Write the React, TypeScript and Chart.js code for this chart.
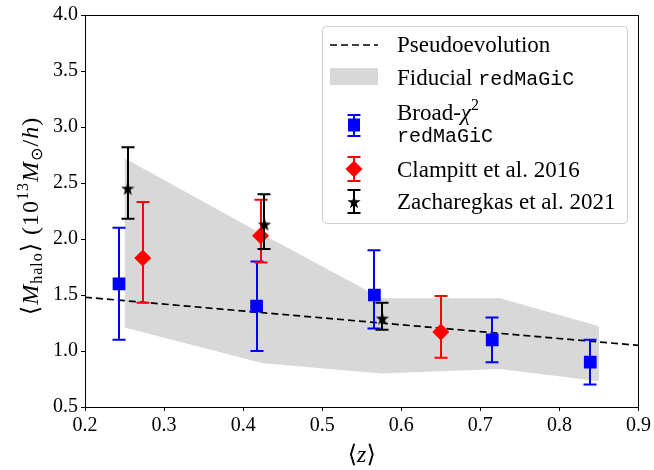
import React, { useEffect, useRef } from 'react';
import { Chart, registerables } from 'chart.js';
Chart.register(...registerables);

// ---- data ----
const broadZ = [0.243, 0.417, 0.566, 0.715, 0.839];
const broadM = [1.6, 1.4, 1.5, 1.1, 0.9];
const broadLo = [1.1, 1.0, 1.2, 0.9, 0.7];
const broadHi = [2.1, 1.8, 1.9, 1.3, 1.1];

const clampZ = [0.273, 0.422, 0.65];
const clampM = [1.83, 2.03, 1.17];
const clampLo = [1.43, 1.79, 0.94];
const clampHi = [2.33, 2.35, 1.49];

const zachZ = [0.254, 0.427, 0.576];
const zachM = [2.45, 2.13, 1.29];
const zachLo = [2.18, 1.91, 1.19];
const zachHi = [2.82, 2.4, 1.43];

const bandZ = [0.25, 0.425, 0.575, 0.725, 0.85];
const bandUpper = [2.72, 2.04, 1.47, 1.47, 1.22];
const bandLower = [1.21, 0.89, 0.8, 0.84, 0.73];

const pseudoZ = [0.2, 0.9];
const pseudoM = [1.48, 1.05];

const xTickValues = [0.2, 0.3, 0.4, 0.5, 0.6, 0.7, 0.8, 0.9];
const yTickValues = [0.5, 1.0, 1.5, 2.0, 2.5, 3.0, 3.5, 4.0];

const legendLabels = ['Pseudoevolution', 'Fiducial ', 'Broad-', 'Clampitt et al. 2016', 'Zacharegkas et al. 2021'];

// ---- style ----
const SERIF = '"Liberation Serif", "DejaVu Serif", serif';
const MONO = '"Liberation Mono", "DejaVu Sans Mono", monospace';
const BAND = 'rgb(216,216,216)';
const BLUE = '#0000ff';
const RED = '#ff0000';

function starPath(ctx: CanvasRenderingContext2D, cx: number, cy: number, R: number, r: number) {
  ctx.beginPath();
  for (let i = 0; i < 10; i++) {
    const a = -Math.PI / 2 + (i * Math.PI) / 5;
    const rr = i % 2 === 0 ? R : r;
    const px = cx + rr * Math.cos(a);
    const py = cy + rr * Math.sin(a);
    if (i === 0) ctx.moveTo(px, py);
    else ctx.lineTo(px, py);
  }
  ctx.closePath();
}

function makeStar(): HTMLCanvasElement {
  const c = document.createElement('canvas');
  c.width = 16;
  c.height = 16;
  const g = c.getContext('2d')!;
  g.fillStyle = '#000';
  starPath(g, 8, 8.5, 7, 2.8);
  g.fill();
  return c;
}

type Run = { t: string; f: string; dy?: number };
function runsWidth(ctx: CanvasRenderingContext2D, runs: Run[]) {
  let w = 0;
  for (const r of runs) {
    ctx.font = r.f;
    w += ctx.measureText(r.t).width;
  }
  return w;
}
function drawRuns(ctx: CanvasRenderingContext2D, runs: Run[], x: number, y: number) {
  let cx = x;
  ctx.textBaseline = 'alphabetic';
  ctx.textAlign = 'left';
  for (const r of runs) {
    ctx.font = r.f;
    ctx.fillText(r.t, cx, y + (r.dy || 0));
    cx += ctx.measureText(r.t).width;
  }
}

function errBar(ctx: CanvasRenderingContext2D, x: number, y1: number, y2: number, color: string) {
  ctx.save();
  ctx.strokeStyle = color;
  ctx.lineWidth = 2;
  ctx.beginPath();
  ctx.moveTo(x, y1);
  ctx.lineTo(x, y2);
  ctx.moveTo(x - 6.5, y1);
  ctx.lineTo(x + 6.5, y1);
  ctx.moveTo(x - 6.5, y2);
  ctx.lineTo(x + 6.5, y2);
  ctx.stroke();
  ctx.restore();
}

const errorBarPlugin = {
  id: 'errbars',
  beforeDatasetDraw(chart: any, args: any) {
    const ds: any = chart.data.datasets[args.index];
    if (!ds.errLo) return;
    const ctx = chart.ctx;
    const xs = chart.scales.x;
    const ys = chart.scales.y;
    ds.data.forEach((p: any, i: number) => {
      const px = Math.round(xs.getPixelForValue(p.x));
      errBar(ctx, px, ys.getPixelForValue(ds.errLo[i]), ys.getPixelForValue(ds.errHi[i]), ds.errColor);
    });
  },
};

const decorPlugin = {
  id: 'decor',
  afterDraw(chart: any) {
    const ctx: CanvasRenderingContext2D = chart.ctx;
    const a = chart.chartArea;
    ctx.save();
    // frame
    ctx.strokeStyle = '#000';
    ctx.lineWidth = 1;
    ctx.strokeRect(Math.round(a.left) + 0.5, Math.round(a.top) + 0.5, Math.round(a.right - a.left) - 1, Math.round(a.bottom - a.top));

    ctx.fillStyle = '#000';
    // x title
    const xr: Run[] = [
      { t: '⟨', f: `24px ${SERIF}` },
      { t: 'z', f: `italic 24px ${SERIF}` },
      { t: '⟩', f: `24px ${SERIF}` },
    ];
    const xw = runsWidth(ctx, xr);
    drawRuns(ctx, xr, (a.left + a.right) / 2 - xw / 2, 462);

    // y title
    const yr: Run[] = [
      { t: '⟨', f: `24px ${SERIF}` },
      { t: 'M', f: `italic 24px ${SERIF}` },
      { t: 'halo', f: `16px ${SERIF}`, dy: 4 },
      { t: '⟩ ', f: `24px ${SERIF}` },
      { t: '(10', f: `24px ${SERIF}` },
      { t: '13', f: `16px ${SERIF}`, dy: -10 },
      { t: 'M', f: `italic 24px ${SERIF}` },
      { t: '⊙', f: `16px "DejaVu Sans", sans-serif`, dy: 4 },
      { t: '/', f: `24px ${SERIF}` },
      { t: 'h', f: `italic 24px ${SERIF}` },
      { t: ')', f: `24px ${SERIF}` },
    ];
    (ctx as any).letterSpacing = '1px';
    const yw = runsWidth(ctx, yr);
    ctx.save();
    ctx.translate(38, 216 + 0);
    ctx.rotate(-Math.PI / 2);
    drawRuns(ctx, yr, -yw / 2, 0);
    ctx.restore();
    (ctx as any).letterSpacing = '0px';

    // legend box
    ctx.beginPath();
    ctx.roundRect(322.5, 26.5, 305, 197, 4);
    ctx.fillStyle = 'rgba(255,255,255,0.85)';
    ctx.fill();
    ctx.strokeStyle = '#d0d0d0';
    ctx.lineWidth = 1;
    ctx.stroke();

    const hx = 330;
    const hw = 48;
    const tx = 397;
    // pseudo
    ctx.save();
    ctx.strokeStyle = '#000';
    ctx.lineWidth = 1.7;
    ctx.setLineDash([7, 4]);
    ctx.beginPath();
    ctx.moveTo(hx, 45);
    ctx.lineTo(hx + hw, 45);
    ctx.stroke();
    ctx.restore();
    // band
    ctx.fillStyle = BAND;
    ctx.fillRect(hx, 68, hw, 17);

    const cxm = hx + hw / 2;
    // broad
    errBar(ctx, cxm, 115, 136, BLUE);
    ctx.fillStyle = BLUE;
    ctx.fillRect(cxm - 6, 125 - 6.5, 12, 13);
    // clampitt
    errBar(ctx, cxm, 157, 181, RED);
    ctx.fillStyle = RED;
    ctx.beginPath();
    ctx.moveTo(cxm, 169 - 8.5);
    ctx.lineTo(cxm + 8.5, 169);
    ctx.lineTo(cxm, 169 + 8.5);
    ctx.lineTo(cxm - 8.5, 169);
    ctx.closePath();
    ctx.fill();
    // zach
    errBar(ctx, cxm, 190, 213, '#000');
    ctx.fillStyle = '#000';
    starPath(ctx, cxm, 202.5, 7, 2.8);
    ctx.fill();

    ctx.fillStyle = '#000';
    const LF = `23px ${SERIF}`;
    drawRuns(ctx, [{ t: legendLabels[0], f: LF }], tx, 52);
    drawRuns(ctx, [{ t: legendLabels[1], f: LF }, { t: 'redMaGiC', f: `20px ${MONO}` }], tx, 85);
    drawRuns(ctx, [
      { t: legendLabels[2], f: LF },
      { t: 'χ', f: `italic 23px ${SERIF}` },
      { t: '2', f: `16px ${SERIF}`, dy: -10 },
    ], tx, 120);
    drawRuns(ctx, [{ t: 'redMaGiC', f: `20px ${MONO}` }], tx, 142);
    drawRuns(ctx, [{ t: legendLabels[3], f: LF }], tx, 177);
    drawRuns(ctx, [{ t: legendLabels[4], f: LF }], tx, 209);
    ctx.restore();
  },
};

export default function App() {
  const ref = useRef<HTMLCanvasElement>(null);
  useEffect(() => {
    document.body.style.margin = '0';
    const star = makeStar();
    const pts = (xs: number[], ys: number[]) => xs.map((x, i) => ({ x, y: ys[i] }));
    const chart = new Chart(ref.current!, {
      type: 'line',
      data: {
        datasets: [
          {
            label: 'Broad',
            data: pts(broadZ, broadM),
            showLine: false,
            pointStyle: 'rect',
            pointRadius: 9,
            backgroundColor: BLUE,
            borderColor: BLUE,
            borderWidth: 0,
            order: 2,
            errLo: broadLo,
            errHi: broadHi,
            errColor: BLUE,
          } as any,
          {
            label: 'Clampitt',
            data: pts(clampZ, clampM),
            showLine: false,
            pointStyle: 'rectRot',
            pointRadius: 8.5,
            backgroundColor: RED,
            borderColor: RED,
            borderWidth: 0,
            order: 1,
            errLo: clampLo,
            errHi: clampHi,
            errColor: RED,
          } as any,
          {
            label: 'Zach',
            data: pts(zachZ, zachM),
            showLine: false,
            pointStyle: star,
            pointRadius: 6,
            backgroundColor: '#000',
            borderColor: '#000',
            order: 0,
            errLo: zachLo,
            errHi: zachHi,
            errColor: '#000',
          } as any,
          {
            label: 'Pseudo',
            data: pts(pseudoZ, pseudoM),
            borderColor: '#000',
            borderWidth: 1.7,
            borderDash: [7, 4],
            pointRadius: 0,
            fill: false,
            order: 3,
          },
          {
            label: 'BandUpper',
            data: pts(bandZ, bandUpper),
            borderWidth: 0,
            borderColor: BAND,
            backgroundColor: BAND,
            pointRadius: 0,
            fill: '+1',
            order: 4,
          },
          {
            label: 'BandLower',
            data: pts(bandZ, bandLower),
            borderWidth: 0,
            borderColor: BAND,
            backgroundColor: BAND,
            pointRadius: 0,
            fill: false,
            order: 5,
          },
        ],
      },
      options: {
        animation: false,
        responsive: false,
        layout: { padding: { left: 0, top: 14, right: 14, bottom: 0 } },
        plugins: { legend: { display: false }, tooltip: { enabled: false } },
        scales: {
          x: {
            type: 'linear',
            min: 0.2,
            max: 0.9,
            afterFit: (s: any) => { s.height = 63; },
            afterBuildTicks: (s: any) => { s.ticks = xTickValues.map((v) => ({ value: v })); },
            ticks: {
              callback: (v: any) => Number(v).toFixed(1),
              font: { family: SERIF, size: 20 },
              color: '#000',
              padding: 3,
              maxRotation: 0,
            },
            grid: { drawOnChartArea: false, drawTicks: true, tickLength: 4, color: '#000' },
            border: { display: true, color: '#000', width: 1 },
          },
          y: {
            type: 'linear',
            min: 0.5,
            max: 4.0,
            afterFit: (s: any) => { s.width = 85; },
            afterBuildTicks: (s: any) => { s.ticks = yTickValues.map((v) => ({ value: v })); },
            ticks: {
              callback: (v: any) => Number(v).toFixed(1),
              font: { family: SERIF, size: 20 },
              color: '#000',
              padding: 3,
            },
            grid: { drawOnChartArea: false, drawTicks: true, tickLength: 4, color: '#000' },
            border: { display: true, color: '#000', width: 1 },
          },
        },
      },
      plugins: [errorBarPlugin, decorPlugin],
    } as any);
    return () => chart.destroy();
  }, []);
  return (
    <div style={{ position: 'absolute', left: 0, top: 0, width: 654, height: 470, background: '#fff' }}>
      <canvas ref={ref} width={654} height={470} style={{ width: 654, height: 470, display: 'block' }} />
    </div>
  );
}
